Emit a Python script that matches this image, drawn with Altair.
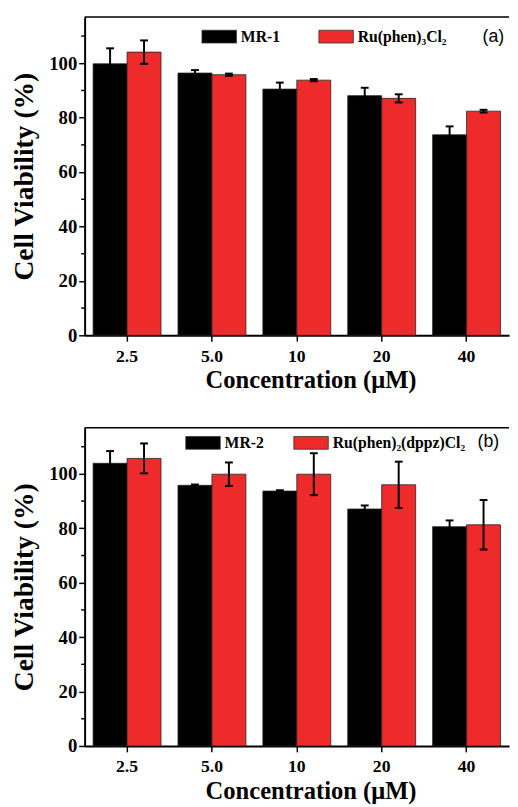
import altair as alt
import pandas as pd

# ---- data ----
concentrations = ["2.5", "5.0", "10", "20", "40"]

series_a = ["MR-1", "Ru(phen)₃Cl₂"]
mr1_mean = [99.8, 96.4, 90.5, 88.1, 73.7]
mr1_err = [5.7, 1.1, 2.4, 2.9, 3.1]
ru3_mean = [104.1, 95.8, 93.8, 87.1, 82.4]
ru3_err = [4.3, 0.4, 0.4, 1.5, 0.5]

series_b = ["MR-2", "Ru(phen)₂(dppz)Cl₂"]
mr2_mean = [103.9, 95.8, 93.7, 87.1, 80.6]
mr2_err = [4.5, 0.3, 0.3, 1.3, 2.3]
rudppz_mean = [105.7, 99.9, 99.9, 96.0, 81.3]
rudppz_err = [5.5, 4.3, 7.7, 8.5, 9.1]

major_ticks = [0, 20, 40, 60, 80, 100]
minor_ticks = [10, 30, 50, 70, 90, 110]
panel_labels = ["(a)", "(b)"]

colors = ["#000000", "#EE2A2A"]
W, H = 432, 324
SERIF = "Liberation Serif"
Y_TITLE = "Cell Viability (%)"


def make_df(series, means_list, errs_list):
    rows = []
    for s, means, errs in zip(series, means_list, errs_list):
        for c, m, e in zip(concentrations, means, errs):
            rows.append({"conc": c, "series": s, "value": m, "lo": m - e, "hi": m + e})
    return pd.DataFrame(rows)


def y_axis():
    return alt.Axis(title=Y_TITLE, values=major_ticks, grid=False)


def panel(series, means_list, errs_list, label, legend_x, legend_y, col_pad,
          lab_x, lab_y, label_pad, title_pad):
    df = make_df(series, means_list, errs_list)
    x = alt.X("conc:N", sort=concentrations,
              scale=alt.Scale(type="band", paddingInner=0.2, paddingOuter=0.1),
              axis=alt.Axis(title="Concentration (μM)", labelAngle=0, titleX=W / 2 + 14,
                            labelPadding=label_pad, titlePadding=title_pad))
    xo = alt.XOffset("series:N", sort=series,
                     scale=alt.Scale(type="band", paddingInner=0, paddingOuter=0))
    yscale = alt.Scale(domain=[0, 117], nice=False)

    bars = alt.Chart(df).mark_bar(stroke="#222222", strokeWidth=0.8).encode(
        x=x, xOffset=xo,
        y=alt.Y("value:Q", scale=yscale, axis=y_axis()),
        color=alt.Color("series:N", sort=series,
                        scale=alt.Scale(domain=series, range=colors),
                        legend=alt.Legend(
                            title=None, orient="none", direction="horizontal",
                            legendX=legend_x, legendY=legend_y,
                            symbolType="M-2.7,-1H2.7V1H-2.7Z", symbolSize=169,
                            symbolStrokeColor="#333333", symbolStrokeWidth=0.8,
                            labelFont=SERIF, labelFontWeight="bold", labelFontSize=16,
                            labelColor="black", labelOffset=14, columnPadding=col_pad)),
    )
    rules = alt.Chart(df).mark_rule(color="black", strokeWidth=2).encode(
        x=x, xOffset=xo,
        y=alt.Y("lo:Q", scale=yscale, axis=y_axis()), y2="hi:Q")
    cap_style = dict(shape="M-1,0H1", size=64, strokeWidth=2, filled=False,
                     color="black", opacity=1)
    caps_hi = alt.Chart(df).mark_point(**cap_style).encode(
        x=x, xOffset=xo, y=alt.Y("hi:Q", scale=yscale, axis=y_axis()))
    caps_lo = alt.Chart(df).mark_point(**cap_style).encode(
        x=x, xOffset=xo, y=alt.Y("lo:Q", scale=yscale, axis=y_axis()))

    minor = alt.Chart(pd.DataFrame({"m": minor_ticks})).mark_rule(
        color="black", strokeWidth=1.5).encode(
        y=alt.Y("m:Q", scale=yscale, axis=y_axis()),
        x=alt.value(-3.5), x2=alt.value(0))

    ldf = pd.DataFrame({"label": [label]})
    top = alt.Chart(ldf).mark_rule(color="black", strokeWidth=1.5).encode(
        x=alt.value(0), x2=alt.value(W), y=alt.value(0))
    txt = alt.Chart(ldf).mark_text(font="Liberation Sans", fontSize=18,
                                   align="center", baseline="middle", color="black").encode(
        x=alt.value(lab_x), y=alt.value(lab_y), text="label:N")

    return alt.layer(bars, rules, caps_hi, caps_lo, minor, top, txt).properties(width=W, height=H)


pa = panel(series_a, [mr1_mean, ru3_mean], [mr1_err, ru3_err], panel_labels[0],
           129, 11.5, 37, 416, 20, 7, 2)
pb = panel(series_b, [mr2_mean, rudppz_mean], [mr2_err, rudppz_err], panel_labels[1],
           112.5, 7, 28, 411, 15, 6, 3)

chart = alt.vconcat(pa, pb, spacing=35).resolve_scale(
    color="independent", xOffset="independent"
).properties(
    padding={"left": 2, "top": 1, "right": 0, "bottom": 0}
).configure_view(stroke=None).configure_axis(
    domainColor="black", domainWidth=2, tickColor="black", tickWidth=1.5, tickSize=6,
    labelFont=SERIF, labelFontWeight="bold", labelColor="black",
    titleFont=SERIF, titleFontWeight="bold", titleColor="black",
).configure_axisY(
    labelFontSize=19, labelPadding=2, titleFontSize=28, titlePadding=11,
).configure_axisX(
    labelFontSize=18, titleFontSize=25,
)

chart.save("out.html", embed_options={"renderer": "svg", "actions": False})
